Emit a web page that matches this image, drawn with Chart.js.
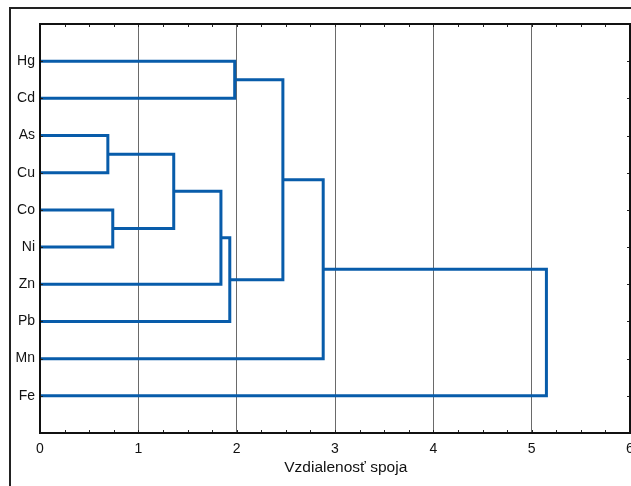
<!DOCTYPE html>
<html>
<head>
<meta charset="utf-8">
<script src="https://cdn.jsdelivr.net/npm/chart.js@4/dist/chart.umd.min.js"></script>
<style>
  html, body { margin: 0; padding: 0; background: #fff; overflow: hidden; }
  #frame { position: absolute; left: 9px; top: 7px; width: 700px; height: 600px; border: 2px solid #222; }
  #wrap { position: absolute; left: 0; top: 0; width: 631px; height: 486px; }
</style>
</head>
<body>
<div id="frame"></div>
<div id="wrap"><canvas id="dendro" width="631" height="486"></canvas></div>
<script>
// leaves, top to bottom
const leaves = ['Hg', 'Cd', 'As', 'Cu', 'Co', 'Ni', 'Zn', 'Pb', 'Mn', 'Fe'];
// merges: ids 0..9 are leaves, each merge creates id 10, 11, ...
const mergeA = [2, 4, 10, 12, 13, 0, 15, 16, 17];
const mergeB = [3, 5, 11, 6, 7, 1, 14, 8, 9];
const mergeDist = [0.69, 0.74, 1.36, 1.84, 1.93, 1.98, 2.47, 2.88, 5.15];
const xTicks = [0, 1, 2, 3, 4, 5, 6];

const lineBlue = 'rgb(8, 92, 170)';

// position (height, row) of every node
const nodeX = leaves.map(() => 0);
const nodeY = leaves.map((l, i) => i + 1);
const links = [];
for (let i = 0; i < mergeDist.length; i++) {
  const a = mergeA[i], b = mergeB[i], d = mergeDist[i];
  links.push([
    { x: nodeX[a], y: nodeY[a] },
    { x: d, y: nodeY[a] },
    { x: d, y: nodeY[b] },
    { x: nodeX[b], y: nodeY[b] }
  ]);
  nodeX.push(d);
  nodeY.push((nodeY[a] + nodeY[b]) / 2);
}

const datasets = links.map(pts => ({
  data: pts,
  showLine: true,
  borderColor: lineBlue,
  borderWidth: 3,
  pointRadius: 0,
  tension: 0,
  clip: false
}));

// inward tick marks and the box round the plot
const boxTicks = {
  id: 'boxTicks',
  afterDatasetsDraw(chart) {
    const c = chart.ctx, a = chart.chartArea;
    const xs = chart.scales.x, ys = chart.scales.y;
    c.save();
    c.strokeStyle = '#222';
    c.lineWidth = 1;
    c.beginPath();
    for (let v = 0; v <= 6; v += 0.25) {
      const px = Math.round(xs.getPixelForValue(v)) + 0.5;
      c.moveTo(px, a.top); c.lineTo(px, a.top + 3);
      c.moveTo(px, a.bottom); c.lineTo(px, a.bottom - 3);
    }
    leaves.forEach((l, i) => {
      const py = Math.round(ys.getPixelForValue(i + 1)) + 0.5;
      c.moveTo(a.right, py); c.lineTo(a.right - 3, py);
      c.moveTo(a.left, py); c.lineTo(a.left + 3, py);
    });
    c.stroke();
    c.strokeStyle = '#111';
    c.lineWidth = 2;
    c.strokeRect(a.left, a.top, a.right - a.left, a.bottom - a.top);
    c.restore();
  }
};

const ctx = document.getElementById('dendro').getContext('2d');
const chart = new Chart(ctx, {
  type: 'scatter',
  data: { datasets: datasets },
  options: {
    responsive: false,
    animation: false,
    layout: { padding: { top: 24, left: 0, right: 1, bottom: 0 } },
    plugins: { legend: { display: false }, tooltip: { enabled: false } },
    scales: {
      x: {
        type: 'linear',
        position: 'bottom',
        min: 0,
        max: 6,
        afterBuildTicks: s => { s.ticks = xTicks.map(v => ({ value: v })); },
        afterFit: s => { s.height = 53; s.paddingLeft = 0; s.paddingRight = 0; },
        grid: { color: '#6a6a6a', lineWidth: 1, drawTicks: false },
        border: { display: false },
        ticks: {
          padding: 8,
          color: '#111',
          font: { family: 'Liberation Sans, Arial, sans-serif', size: 14 },
          maxRotation: 0
        },
        title: {
          display: true,
          // leading spaces push the centred title a little to the right, as in the original
          text: '     Vzdialenosť spoja',
          color: '#111',
          font: { family: 'Liberation Sans, Arial, sans-serif', size: 15.5 },
          padding: { top: 2, bottom: 9 }
        }
      },
      y: {
        type: 'linear',
        min: 0,
        max: 11,
        reverse: true,
        afterBuildTicks: s => { s.ticks = leaves.map((l, i) => ({ value: i + 1 })); },
        afterFit: s => { s.width = 40; s.paddingTop = 0; s.paddingBottom = 0; },
        grid: { display: false, drawTicks: false },
        border: { display: false },
        ticks: {
          padding: 5,
          color: '#111',
          font: { family: 'Liberation Sans, Arial, sans-serif', size: 14 },
          callback: v => leaves[v - 1] || ''
        }
      }
    }
  },
  plugins: [boxTicks]
});
</script>
</body>
</html>
